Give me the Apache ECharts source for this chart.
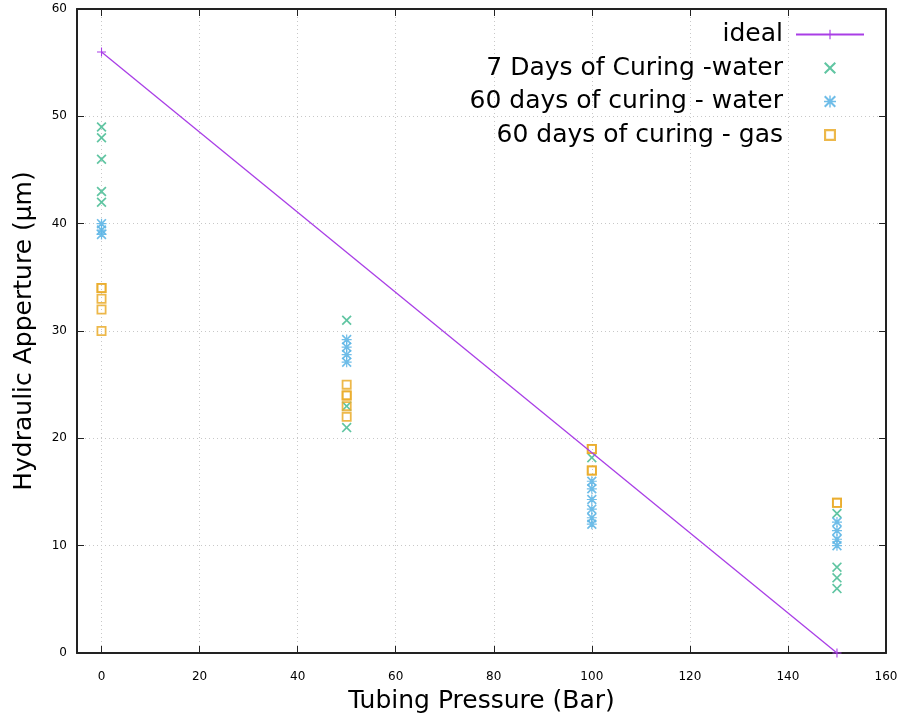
<!DOCTYPE html>
<html><head><meta charset="utf-8">
<script src="https://cdn.jsdelivr.net/npm/echarts@6/dist/echarts.min.js"></script>
<style>html,body{margin:0;padding:0;background:#fff}#c{width:904px;height:719px}</style>
</head><body><div id="c"></div>
<script>
const xTicks = [0, 20, 40, 60, 80, 100, 120, 140, 160];
const yTicks = [0, 10, 20, 30, 40, 50, 60];
const idealX = [0, 150];
const idealY = [56, 0];
const water7X = [0,0,0,0,0, 50,50,50, 100, 150,150,150,150];
const water7Y = [49,48,46,43,42, 31,23,21, 18.2, 13,8,7,6];
const water60X = [0,0,0, 50,50,50,50, 100,100,100,100,100,100, 150,150,150,150];
const water60Y = [40,39.4,39, 29.2,28.5,27.8,27.1, 16,15.3,14.3,13.4,12.6,12, 12.2,11.4,10.6,10];
const gas60X = [0,0,0,0,0, 50,50,50,50,50, 100,100,100,100, 150,150];
const gas60Y = [34,34,33,32,30, 25,24,24,23,22, 19,19,17,17, 14,14];

const zip = (a, b) => a.map((v, i) => [v, b[i]]);
const X_PATH = 'path://M0,1.2L1.2,0L5,3.8L8.8,0L10,1.2L6.2,5L10,8.8L8.8,10L5,6.2L1.2,10L0,8.8L3.8,5Z';
const STAR_PATH = 'path://M0,1.2L1.2,0L5,3.8L8.8,0L10,1.2L6.2,5L10,8.8L8.8,10L5,6.2L1.2,10L0,8.8L3.8,5Z M4.4,0L5.6,0L5.6,4.4L10,4.4L10,5.6L5.6,5.6L5.6,10L4.4,10L4.4,5.6L0,5.6L0,4.4L4.4,4.4Z';
const SQ_PATH = 'path://M0,0L10,0L10,10L0,10Z M1.8,1.8L1.8,8.2L8.2,8.2L8.2,1.8Z';
const PLUS_PATH = 'path://M4.4,0L5.6,0L5.6,4.4L10,4.4L10,5.6L5.6,5.6L5.6,10L4.4,10L4.4,5.6L0,5.6L0,4.4L4.4,4.4Z';

const labelFont = {fontFamily: 'Verdana, "DejaVu Sans", sans-serif', fontSize: 12, color: '#000'};
const nameFont = {fontFamily: '"DejaVu Sans", sans-serif', fontSize: 25, color: '#000'};
const gridLine = {show: true, lineStyle: {color: '#c8c8c8', type: [1, 3], width: 1}};

const chart = echarts.init(document.getElementById('c'), null, {renderer: 'canvas'});
chart.setOption({
  animation: false,
  backgroundColor: '#fff',
  grid: {left: 77, right: 18, top: 9, bottom: 65, containLabel: false},
  legend: {
    orient: 'vertical', right: 34, top: 17, align: 'right',
    itemWidth: 68, itemHeight: 12, itemGap: 8.5,
    textStyle: {fontFamily: '"DejaVu Sans", sans-serif', fontSize: 25, color: '#000', padding: [0, 8, 0, 0]},
    data: ['ideal', '7 Days of Curing -water', '60 days of curing - water', '60 days of curing - gas']
  },
  xAxis: [{
    type: 'value', min: -5, max: 160, interval: 20, position: 'bottom',
    axisLine: {show: true, onZero: false, lineStyle: {color: '#222', width: 2}},
    axisTick: {show: true, inside: true, length: 7, lineStyle: {color: '#222'}, customValues: xTicks},
    axisLabel: Object.assign({customValues: xTicks, margin: 18}, labelFont),
    splitLine: Object.assign({}, gridLine),
    name: 'Tubing Pressure (Bar)', nameLocation: 'middle', nameGap: 36, nameTextStyle: nameFont
  }, {
    type: 'value', min: -5, max: 160, interval: 20, position: 'top',
    axisLine: {show: true, onZero: false, lineStyle: {color: '#222', width: 2}},
    axisTick: {show: true, inside: true, length: 7, lineStyle: {color: '#222'}, customValues: xTicks},
    axisLabel: {show: false}, splitLine: {show: false}
  }],
  yAxis: [{
    type: 'value', min: 0, max: 60, interval: 10, position: 'left',
    axisLine: {show: true, onZero: false, lineStyle: {color: '#222', width: 2}},
    axisTick: {show: true, inside: true, length: 7, lineStyle: {color: '#222'}},
    axisLabel: Object.assign({margin: 10}, labelFont),
    splitLine: Object.assign({}, gridLine),
    name: 'Hydraulic Apperture (μm)', nameLocation: 'middle', nameGap: 40, nameTextStyle: nameFont
  }, {
    type: 'value', min: 0, max: 60, interval: 10, position: 'right',
    axisLine: {show: true, onZero: false, lineStyle: {color: '#222', width: 2}},
    axisTick: {show: true, inside: true, length: 7, lineStyle: {color: '#222'}},
    axisLabel: {show: false}, splitLine: {show: false}
  }],
  series: [{
    name: 'ideal', type: 'line', data: zip(idealX, idealY),
    symbol: PLUS_PATH, symbolSize: 9, showSymbol: true,
    lineStyle: {color: '#a93ee6', width: 1.3}, itemStyle: {color: '#a93ee6'}
  }, {
    name: '7 Days of Curing -water', type: 'scatter', data: zip(water7X, water7Y),
    symbol: X_PATH, symbolSize: 10, itemStyle: {color: '#4fbf98', opacity: 0.9}
  }, {
    name: '60 days of curing - water', type: 'scatter', data: zip(water60X, water60Y),
    symbol: STAR_PATH, symbolSize: 10, itemStyle: {color: '#5fb6e6', opacity: 0.9}
  }, {
    name: '60 days of curing - gas', type: 'scatter', data: zip(gas60X, gas60Y),
    symbol: SQ_PATH, symbolSize: 10, itemStyle: {color: '#eaab2a', opacity: 0.85}
  }]
});
</script></body></html>
